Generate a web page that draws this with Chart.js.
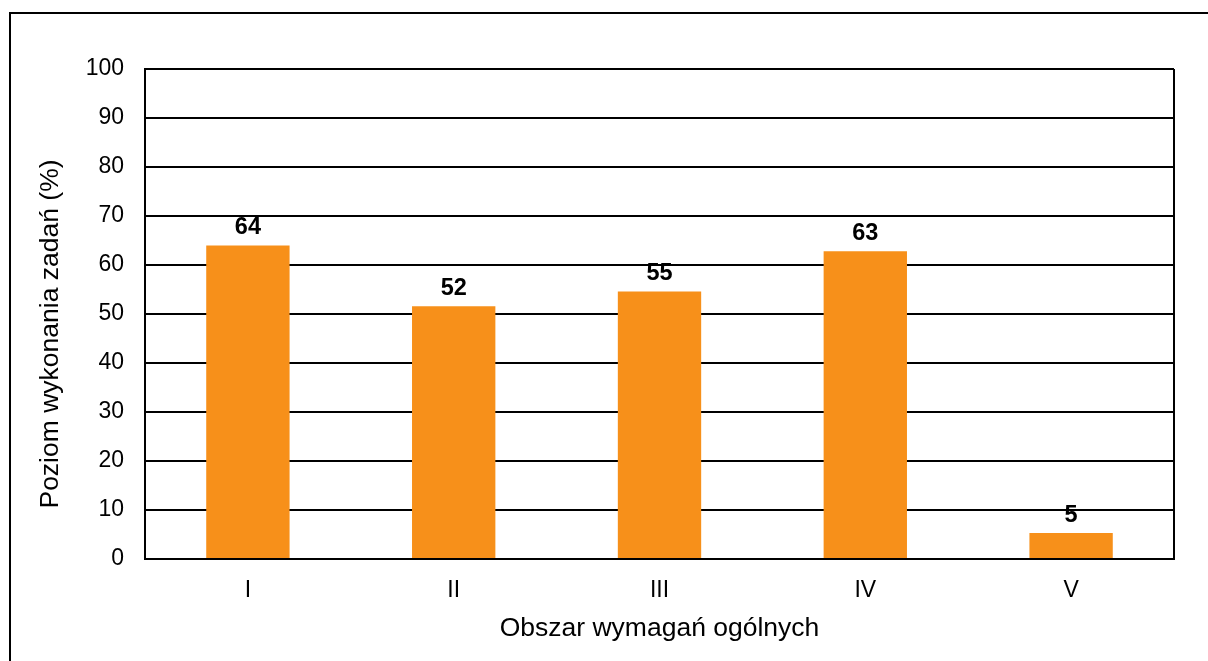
<!DOCTYPE html>
<html>
<head>
<meta charset="utf-8">
<script src="https://cdn.jsdelivr.net/npm/chart.js@4.4.1/dist/chart.umd.min.js"></script>
<style>
  html, body { margin: 0; padding: 0; background: #ffffff; overflow: hidden; }
  #wrap { position: relative; width: 1208px; height: 661px; }
  #frame { position: absolute; left: 9px; top: 12px; width: 1210px; height: 670px; border: 2px solid #000; box-sizing: border-box; pointer-events: none; }
  canvas { position: absolute; left: 0; top: 0; }
</style>
</head>
<body>
<div id="wrap">
  <canvas id="chart" width="1208" height="661"></canvas>
  <div id="frame"></div>
</div>
<script>
// data
var categories = ['I', 'II', 'III', 'IV', 'V'];
var values = [64.0, 51.6, 54.6, 62.8, 5.3];
var labels = [64, 52, 55, 63, 5];
var y_ticks = [0, 10, 20, 30, 40, 50, 60, 70, 80, 90, 100];
var y_title = 'Poziom wykonania zadań (%)';
var x_title = 'Obszar wymagań ogólnych';

var bar_color = '#F7901A';
var text_color = '#000000';
var font_family = "'Liberation Sans', Arial, sans-serif";

// labels above bars
var barLabels = {
    id: 'barLabels',
    afterDatasetsDraw: function (chart) {
        var c = chart.ctx;
        var meta = chart.getDatasetMeta(0);
        c.save();
        c.fillStyle = text_color;
        c.font = 'bold 23.5px ' + font_family;
        c.textAlign = 'center';
        c.textBaseline = 'bottom';
        meta.data.forEach(function (bar, i) {
            c.fillText(String(labels[i]), bar.x, bar.y - 6);
        });
        c.restore();
    }
};

// y title sits a bit lower than the plot centre in the original
var yTitle = {
    id: 'yTitle',
    afterDraw: function (chart) {
        var c = chart.ctx;
        c.save();
        c.translate(51, 334);
        c.rotate(-Math.PI / 2);
        c.fillStyle = text_color;
        c.font = '26.5px ' + font_family;
        c.textAlign = 'center';
        c.textBaseline = 'middle';
        c.fillText(y_title, 0, 0);
        c.restore();
    }
};

var rightBorder = {
    id: 'rightBorder',
    afterDraw: function (chart) {
        var a = chart.chartArea;
        var c = chart.ctx;
        c.save();
        c.strokeStyle = '#000';
        c.lineWidth = 2;
        c.beginPath();
        c.moveTo(a.right, a.top);
        c.lineTo(a.right, a.bottom);
        c.stroke();
        c.restore();
    }
};

var ctx = document.getElementById('chart');

var cfg = {
    type: 'bar',
    data: {
        labels: categories,
        datasets: [{
            data: values,
            backgroundColor: bar_color,
            borderWidth: 0,
            categoryPercentage: 1.0,
            barPercentage: 0.405
        }]
    },
    options: {
        responsive: false,
        animation: false,
        layout: {
            padding: { top: 69, right: 34, bottom: 0, left: 0 }
        },
        scales: {
            x: {
                grid: {
                    display: false,
                    drawTicks: false
                },
                border: { display: true, color: '#000', width: 2 },
                ticks: {
                    color: text_color,
                    font: { family: font_family, size: 23 },
                    padding: 18
                },
                title: {
                    display: true,
                    text: x_title,
                    color: text_color,
                    font: { family: font_family, size: 26.5 },
                    padding: { top: 0, bottom: 16 }
                },
                afterFit: function (scale) { scale.height = 102; }
            },
            y: {
                min: 0,
                max: 100,
                afterBuildTicks: function (scale) {
                    scale.ticks = y_ticks.map(function (v) { return { value: v }; });
                },
                grid: {
                    color: '#000',
                    lineWidth: 2,
                    drawTicks: false
                },
                border: { display: true, color: '#000', width: 2 },
                ticks: {
                    color: text_color,
                    font: { family: font_family, size: 23 },
                    padding: 21
                },
                title: { display: false },
                afterFit: function (scale) { scale.width = 145; }
            }
        },
        plugins: {
            legend: { display: false },
            tooltip: { enabled: false }
        }
    },
    plugins: [barLabels, yTitle, rightBorder]
};

const chart = new Chart(ctx, cfg);
</script>
</body>
</html>
